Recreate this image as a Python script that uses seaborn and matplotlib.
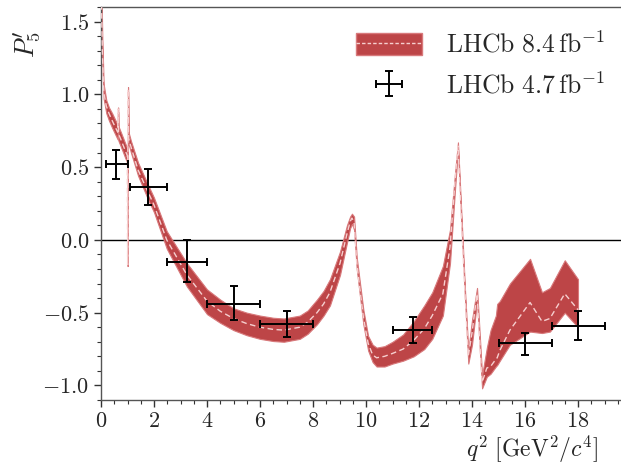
import matplotlib
matplotlib.use('Agg')
import matplotlib.pyplot as plt
import seaborn as sns
import pandas as pd
from matplotlib.patches import Patch
from matplotlib.lines import Line2D
from matplotlib.ticker import MultipleLocator, FixedLocator

# SM / fit band (LHCb 8.4 fb^-1)
q2_band = [0.02, 0.05, 0.1, 0.2, 0.3, 0.42, 0.55, 0.63, 0.645, 0.66, 0.75, 0.9, 0.99,
           1.005, 1.02, 1.04, 1.13, 1.4, 1.77, 2.0, 2.48, 3.24, 4.0, 4.5, 5.0, 5.5, 6.0,
           6.5, 6.9, 7.5, 7.8, 8.15, 8.4, 8.64, 9.02, 9.28, 9.4, 9.47, 9.55, 9.65, 9.9,
           10.08, 10.25, 10.4, 10.7, 11.0, 11.4, 11.8, 12.2, 12.5, 12.9, 13.17, 13.36,
           13.47, 13.62, 13.74, 13.86, 14.0, 14.19, 14.38, 14.56, 14.7, 14.9, 14.95,
           15.05, 15.43, 16.19, 16.64, 16.94, 17.5, 18.0]
p5_center = [1.62, 1.30, 1.02, 0.92, 0.87, 0.82, 0.77, 0.74, 0.90, 0.73, 0.69, 0.62, 0.58,
             -0.17, 1.035, 0.70, 0.64, 0.48, 0.33, 0.24, 0.0, -0.24, -0.42, -0.49, -0.54,
             -0.575, -0.60, -0.615, -0.62, -0.60, -0.565, -0.50, -0.44, -0.36, -0.16, 0.04,
             0.125, 0.15, 0.12, -0.16, -0.53, -0.71, -0.79, -0.81, -0.80, -0.78, -0.75,
             -0.69, -0.61, -0.52, -0.37, -0.05, 0.41, 0.645, 0.065, -0.39, -0.80, -0.64,
             -0.37, -0.98, -0.88, -0.87, -0.82, -0.81, -0.76, -0.62, -0.43, -0.56, -0.54,
             -0.37, -0.48]
p5_lower = [1.55, 1.22, 0.97, 0.87, 0.82, 0.77, 0.72, 0.69, 0.88, 0.68, 0.64, 0.57, 0.53,
            -0.18, 1.02, 0.66, 0.60, 0.44, 0.28, 0.19, -0.06, -0.32, -0.51, -0.57, -0.62,
            -0.655, -0.68, -0.695, -0.70, -0.68, -0.645, -0.58, -0.52, -0.45, -0.24, -0.02,
            0.08, 0.11, 0.07, -0.20, -0.58, -0.76, -0.84, -0.87, -0.87, -0.85, -0.83,
            -0.80, -0.75, -0.68, -0.52, -0.16, 0.35, 0.62, 0.03, -0.42, -0.85, -0.72,
            -0.42, -1.02, -0.94, -0.92, -0.87, -0.86, -0.83, -0.72, -0.63, -0.64, -0.63,
            -0.50, -0.60]
p5_upper = [1.70, 1.38, 1.07, 0.96, 0.91, 0.87, 0.82, 0.79, 0.91, 0.78, 0.74, 0.67, 0.63,
            -0.16, 1.05, 0.74, 0.68, 0.53, 0.38, 0.29, 0.06, -0.16, -0.34, -0.41, -0.47,
            -0.50, -0.52, -0.535, -0.54, -0.52, -0.485, -0.41, -0.35, -0.27, -0.08, 0.10,
            0.16, 0.18, 0.16, -0.12, -0.48, -0.66, -0.72, -0.74, -0.73, -0.70, -0.65,
            -0.56, -0.45, -0.36, -0.18, 0.07, 0.46, 0.67, 0.10, -0.36, -0.76, -0.55,
            -0.33, -0.93, -0.74, -0.62, -0.52, -0.44, -0.42, -0.30, -0.13, -0.36, -0.33,
            -0.14, -0.27]

# LHCb 4.7 fb^-1 data points
q2_data = [0.57, 1.77, 3.25, 5.0, 7.0, 11.78, 16.0, 18.0]
q2_bin_lo = [0.19, 1.1, 2.5, 4.0, 6.0, 11.0, 15.0, 17.0]
q2_bin_hi = [1.0, 2.5, 4.0, 6.0, 8.0, 12.5, 17.0, 19.0]
p5_data = [0.52, 0.36, -0.15, -0.44, -0.58, -0.62, -0.71, -0.59]
p5_err_up = [0.10, 0.13, 0.15, 0.12, 0.09, 0.09, 0.07, 0.10]
p5_err_dn = [0.10, 0.12, 0.14, 0.11, 0.09, 0.09, 0.08, 0.10]

x_major = [0, 2, 4, 6, 8, 10, 12, 14, 16, 18]

sns.set_theme(style='ticks')
plt.rcParams['font.family'] = ['serif']
plt.rcParams['font.serif'] = ['cmr10', 'DejaVu Serif']
plt.rcParams['mathtext.fontset'] = 'cm'
plt.rcParams['axes.formatter.use_mathtext'] = True
plt.rcParams['axes.unicode_minus'] = True

band_color = '#bd4547'
edge_color = '#d8797b'
dash_color = '#f6cfcf'

band = pd.DataFrame({'q2': q2_band, 'center': p5_center, 'lo': p5_lower, 'hi': p5_upper})

fig = plt.figure(figsize=(6.21, 4.67), dpi=100)
ax = fig.add_axes([101 / 621, 67 / 467, 530 / 621, 393 / 467])

ax.axhline(0, color='black', lw=1.0, zorder=1)
ax.fill_between(band['q2'], band['lo'], band['hi'], facecolor=band_color,
                edgecolor=edge_color, linewidth=0.8, zorder=2)
sns.lineplot(data=band, x='q2', y='center', ax=ax, color=dash_color, sort=False,
             linestyle=(0, (4, 2.5)), linewidth=1.0, zorder=3)

xerr = [[c - l for c, l in zip(q2_data, q2_bin_lo)], [h - c for c, h in zip(q2_data, q2_bin_hi)]]
data_h = ax.errorbar(q2_data, p5_data, xerr=xerr, yerr=[p5_err_dn, p5_err_up], fmt='none',
                     ecolor='black', elinewidth=1.4, capsize=3, capthick=1.4, zorder=4)

ax.set_xlim(0, 20)
ax.set_ylim(-1.1, 1.6)
ax.xaxis.set_major_locator(FixedLocator(x_major))
ax.xaxis.set_minor_locator(MultipleLocator(0.5))
ax.yaxis.set_major_locator(MultipleLocator(0.5))
ax.yaxis.set_minor_locator(MultipleLocator(0.1))
ax.tick_params(which='both', direction='out', labelsize=16, color='#333333')
ax.tick_params(which='major', length=5, width=1)
ax.tick_params(which='minor', length=3, width=0.8)
ax.spines['right'].set_visible(False)
for s in ['left', 'bottom', 'top']:
    ax.spines[s].set_color('#555555')
    ax.spines[s].set_linewidth(1.0)

ax.set_ylabel(r"$P_5'$", fontsize=19, rotation=90)
ax.yaxis.set_label_coords(-0.11, 0.905)
ax.set_xlabel(r"$q^2\ [\mathrm{GeV}^2/c^4]$", fontsize=17, ha='right')
ax.xaxis.set_label_coords(0.937, -0.085)

band_h = (Patch(facecolor=band_color, edgecolor=edge_color),
          Line2D([], [], color=dash_color, linestyle=(0, (2.5, 1.5)), linewidth=1.0))
fig.legend([band_h, data_h],
           [r"$\mathrm{LHCb}\ 8.4\,\mathrm{fb}^{-1}$", r"$\mathrm{LHCb}\ 4.7\,\mathrm{fb}^{-1}$"],
           loc='upper right', bbox_to_anchor=(0.99, 0.955), bbox_transform=fig.transFigure,
           frameon=False, fontsize=18.5, handlelength=2.6, handleheight=0.9,
           handletextpad=0.9, labelspacing=0.55, borderaxespad=0)

fig.savefig('out.png', dpi=100)
